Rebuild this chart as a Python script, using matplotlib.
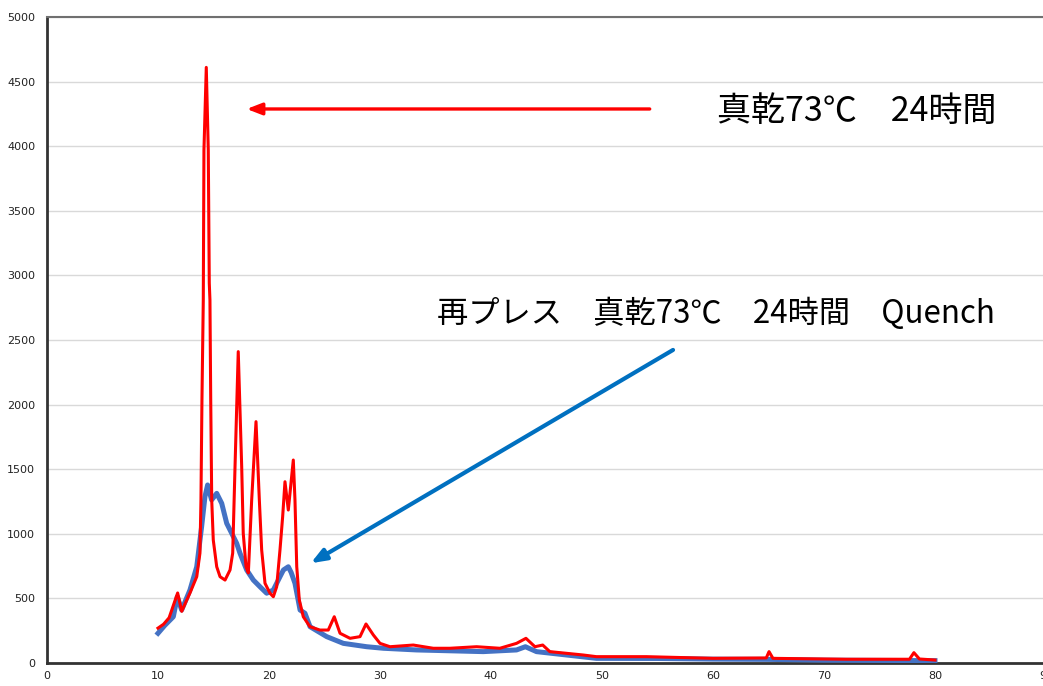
import numpy as np
import matplotlib.pyplot as plt

# XRD patterns: 2θ (deg) vs intensity (counts)
two_theta_dry = [10.0, 10.5, 11.0, 11.77, 12.14, 12.5, 12.88, 13.49, 13.78, 13.87, 13.96,
                 14.08, 14.14, 14.35, 14.53, 14.62, 14.68, 14.75, 14.84, 14.98, 15.29,
                 15.59, 16.04, 16.49, 16.73, 16.94, 17.23, 17.54, 17.68, 17.93, 18.14,
                 18.44, 18.83, 19.13, 19.34, 19.64, 20.09, 20.39, 20.69, 20.99, 21.23,
                 21.44, 21.74, 22.19, 22.34, 22.5, 22.73, 23.09, 23.69, 24.59, 25.34,
                 25.88, 26.4, 27.3, 28.2, 28.74, 29.4, 30.0, 30.9, 33.0, 34.8, 36.3,
                 38.7, 40.8, 42.3, 43.15, 43.96, 44.66, 45.3, 48.3, 49.5, 54.0, 60.0,
                 64.8, 65.05, 65.4, 72.0, 77.7, 78.1, 78.6, 80.0]
intensity_dry = [270, 300, 350, 542, 400, 470, 542, 668, 851, 1262, 2036,
                 2810, 3970, 4610, 3970, 2941, 2810, 2036, 1262, 952, 745,
                 668, 642, 720, 851, 1520, 2410, 1520, 1004, 745, 697,
                 1262, 1868, 1262, 875, 617, 540, 513, 590, 875, 1132,
                 1403, 1184, 1571, 1262, 745, 488, 358, 281, 255, 255,
                 358, 230, 191, 204, 302, 217, 152, 126, 139, 114, 114,
                 126, 114, 152, 191, 126, 139, 88, 62, 49, 49, 36,
                 39, 88, 36, 29, 29, 80, 31, 23]

two_theta_quench = [10.0, 10.6, 11.38, 11.74, 12.13, 12.88, 13.49, 13.93, 14.23, 14.47,
                    14.83, 15.29, 15.74, 16.19, 16.64, 17.09, 17.39, 17.99, 18.59,
                    19.19, 19.79, 20.39, 20.99, 21.3, 21.74, 22.0, 22.34, 22.8, 23.24,
                    23.7, 25.2, 26.7, 28.8, 30.3, 33.3, 39.3, 42.3, 43.1, 44.1, 46.8,
                    49.5, 55.0, 60.0, 65.0, 70.0, 75.0, 80.0]
intensity_quench = [230, 290, 358, 513, 410, 565, 745, 1055, 1287, 1378,
                    1262, 1313, 1236, 1081, 1004, 926, 849, 720, 642,
                    590, 540, 565, 668, 720, 745, 700, 617, 410, 385,
                    281, 204, 152, 126, 114, 101, 88, 101, 126, 88, 62,
                    36, 35, 30, 28, 22, 20, 18]

plt.rcParams['font.family'] = ['DejaVu Sans']
cjk = ['Noto Sans CJK JP', 'DejaVu Sans']

fig = plt.figure(figsize=(10.43, 6.86), dpi=100)
ax = fig.add_axes([0.04506, 0.03353, 0.9578, 0.9417])

ax.plot(two_theta_quench, intensity_quench, color='#4472C4', linewidth=3.6,
        solid_joinstyle='round', zorder=3)
ax.plot(two_theta_dry, intensity_dry, color='#FF0000', linewidth=2.2,
        solid_joinstyle='round', zorder=4)

ax.set_xlim(0, 90)
ax.set_ylim(0, 5000)
ax.set_xticks(np.arange(0, 91, 10))
ax.set_yticks(np.arange(0, 5001, 500))
ax.yaxis.grid(True, color='#d9d9d9', linewidth=1.0)
ax.set_axisbelow(True)
ax.tick_params(length=0, labelsize=8, colors='#222222')
ax.tick_params(axis='y', pad=8.5)
ax.tick_params(axis='x', pad=6)

for side in ['left', 'bottom']:
    ax.spines[side].set_color('#333333')
    ax.spines[side].set_linewidth(2.0)
ax.spines['top'].set_color('#707070')
ax.spines['top'].set_linewidth(1.5)
ax.spines['right'].set_visible(False)

# labels with arrows pointing to each pattern
ax.annotate('', xy=(17.99, 4288), xytext=(54.3, 4288),
            arrowprops=dict(arrowstyle='-|>,head_length=0.9,head_width=0.35',
                            color='#FF0000', lw=2.4, shrinkA=0, shrinkB=0))
ax.text(60.4, 4265, '真乾73℃　24時間', family=cjk, fontsize=24.5,
        ha='left', va='center', color='black')

ax.annotate('', xy=(23.76, 772), xytext=(56.4, 2423),
            arrowprops=dict(arrowstyle='-|>,head_length=0.9,head_width=0.35',
                            color='#0070C0', lw=3.0, shrinkA=0, shrinkB=0))
ax.text(35.1, 2700, '再プレス　真乾73℃　24時間　Quench', family=cjk, fontsize=22.5,
        ha='left', va='center', color='black')

fig.savefig('out.png', dpi=100)
